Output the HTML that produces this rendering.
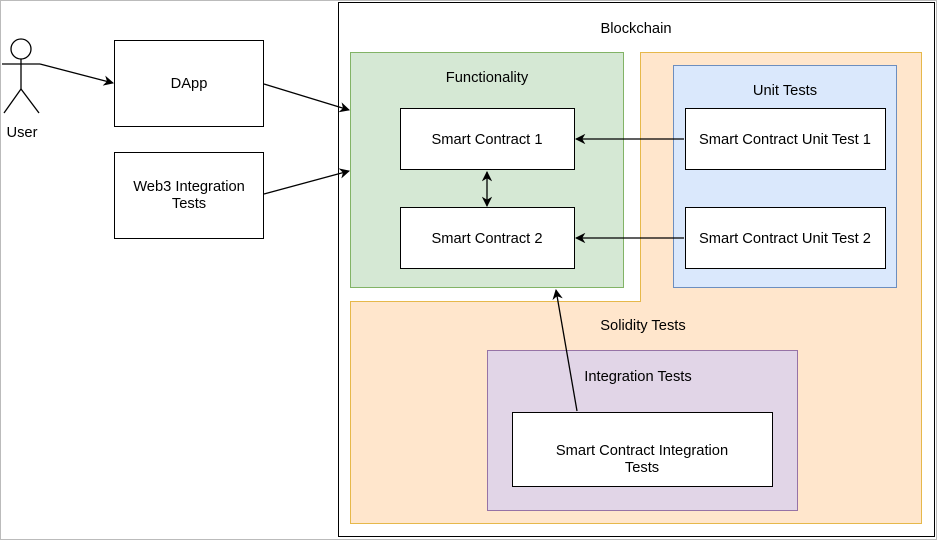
<!DOCTYPE html>
<html><head><meta charset="utf-8"><style>
html,body{margin:0;padding:0;background:#fff}
svg{display:block}
text{font-family:"Liberation Sans",Arial,sans-serif;font-size:14.7px;fill:#000}
</style></head><body>
<svg width="937" height="540" viewBox="0 0 937 540" xmlns="http://www.w3.org/2000/svg">
<defs><marker id="a" viewBox="0 0 10 10" refX="9" refY="5" markerWidth="8" markerHeight="8" orient="auto-start-reverse"><path d="M0,0 L10,5 L0,10 L3,5 z" fill="#000"/></marker></defs>
<rect x="0.5" y="0.5" width="936" height="539" fill="#fff" stroke="#bbb" stroke-width="1"/>
<rect x="338.5" y="2.5" width="596" height="534" fill="#fff" stroke="#000"/>
<text x="636" y="33" text-anchor="middle">Blockchain</text>
<polygon points="640.5,52.5 921.5,52.5 921.5,523.5 350.5,523.5 350.5,301.5 640.5,301.5" fill="#ffe6cc" stroke="#e6b84a"/>
<rect x="350.5" y="52.5" width="273" height="235" fill="#d5e8d4" stroke="#82b366"/>
<text x="487" y="82" text-anchor="middle">Functionality</text>
<rect x="673.5" y="65.5" width="223" height="222" fill="#dae8fc" stroke="#6c8ebf"/>
<text x="785" y="95" text-anchor="middle">Unit Tests</text>
<text x="643" y="330" text-anchor="middle">Solidity Tests</text>
<rect x="487.5" y="350.5" width="310" height="160" fill="#e1d5e7" stroke="#9673a6"/>
<text x="638" y="381" text-anchor="middle">Integration Tests</text>
<rect x="400.5" y="108.5" width="174" height="61" fill="#fff" stroke="#000"/>
<text x="487" y="144" text-anchor="middle">Smart Contract 1</text>
<rect x="400.5" y="207.5" width="174" height="61" fill="#fff" stroke="#000"/>
<text x="487" y="243" text-anchor="middle">Smart Contract 2</text>
<rect x="685.5" y="108.5" width="200" height="61" fill="#fff" stroke="#000"/>
<text x="785" y="144" text-anchor="middle">Smart Contract Unit Test 1</text>
<rect x="685.5" y="207.5" width="200" height="61" fill="#fff" stroke="#000"/>
<text x="785" y="243" text-anchor="middle">Smart Contract Unit Test 2</text>
<rect x="512.5" y="412.5" width="260" height="74" fill="#fff" stroke="#000"/>
<text x="642" y="455" text-anchor="middle">Smart Contract Integration</text>
<text x="642" y="472" text-anchor="middle">Tests</text>
<rect x="114.5" y="40.5" width="149" height="86" fill="#fff" stroke="#000"/>
<text x="189" y="88" text-anchor="middle">DApp</text>
<rect x="114.5" y="152.5" width="149" height="86" fill="#fff" stroke="#000"/>
<text x="189" y="191" text-anchor="middle">Web3 Integration</text>
<text x="189" y="208" text-anchor="middle">Tests</text>
<g stroke="#000" stroke-width="1.3" fill="none">
<circle cx="21" cy="49" r="10" fill="#fff"/>
<line x1="21" y1="59" x2="21" y2="89"/>
<line x1="2" y1="64" x2="40" y2="64"/>
<line x1="21" y1="89" x2="4" y2="113"/>
<line x1="21" y1="89" x2="39" y2="113"/>
</g>
<text x="22" y="137" text-anchor="middle">User</text>
<g stroke="#000" stroke-width="1.3" fill="none" marker-end="url(#a)">
<line x1="40" y1="64" x2="113" y2="83"/>
<line x1="264" y1="84" x2="349" y2="110"/>
<line x1="264" y1="194" x2="349" y2="171"/>
<line x1="684" y1="139" x2="576" y2="139"/>
<line x1="684" y1="238" x2="576" y2="238"/>
<line x1="577" y1="411" x2="556" y2="290"/>
<line x1="487" y1="172" x2="487" y2="206" marker-start="url(#a)"/>
</g>
</svg>
</body></html>
